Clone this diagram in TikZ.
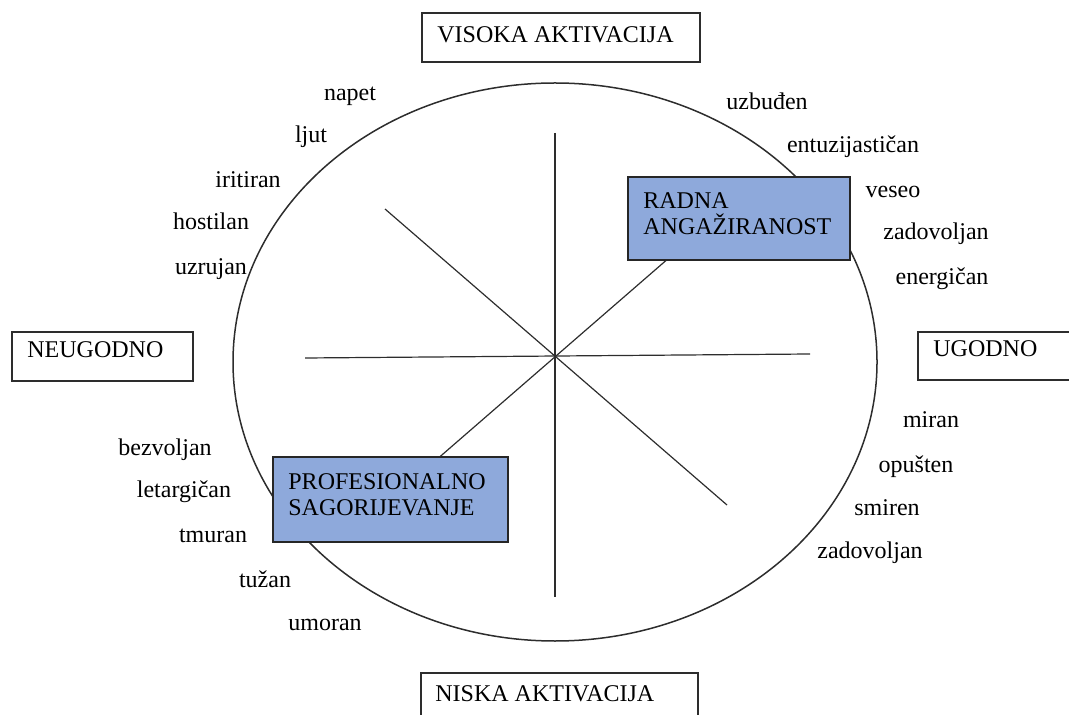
\documentclass[tikz,border=0pt]{standalone}
\usepackage{fontspec}
\setmainfont{Liberation Serif}
\usetikzlibrary{positioning}
\definecolor{boxblue}{RGB}{142,169,219}
\definecolor{linegray}{RGB}{45,45,45}
\tikzset{mood/.style={font=\fontsize{12}{13}\selectfont,inner sep=0pt,text height=0.7em,text depth=0.2em}}
\tikzset{axisbox/.style={draw=linegray,line width=0.75pt}}
\tikzset{statebox/.style={draw=black!85,line width=0.75pt,fill=boxblue}}

\begin{document}
\begin{tikzpicture}[x=0.5pt,y=-0.5pt]
\useasboundingbox (0,0) rectangle (1069,715);
\clip (0,0) rectangle (1069,715);

\draw[linegray,line width=0.75pt] (555,362) ellipse [x radius=161pt,y radius=139.5pt];

\coordinate (n) at (555,133);
\coordinate (s) at (555,597);
\coordinate (w) at (305,358);
\coordinate (e) at (810,354);
\coordinate (nw) at (385,209);
\coordinate (se) at (727,505);
\coordinate (ne) at (700,231);
\coordinate (sw) at (405,487);

\draw[linegray,line width=0.6pt] (n) -- (s);
\draw[linegray,line width=0.6pt] (w) -- (e);
\draw[linegray,line width=0.6pt] (nw) -- (se);
\draw[linegray,line width=0.6pt] (ne) -- (sw);

% axis labels
\draw[axisbox] (422,13) rectangle (700,62);
\node[mood,anchor=west] (visoka) at (437,37.5) {VISOKA AKTIVACIJA};
\draw[axisbox] (421,673) rectangle (698,740);
\node[mood,anchor=west] (niska) at (435,696) {NISKA AKTIVACIJA};
\draw[axisbox] (12,332) rectangle (193,381);
\node[mood,anchor=west] (neugodno) at (27,353) {NEUGODNO};
\draw[axisbox] (918,332) rectangle (1080,380);
\node[mood,anchor=west] (ugodno) at (933,352) {UGODNO};

% blue boxes
\draw[statebox] (628,177) rectangle (850,260);
\node[font=\fontsize{12}{13}\selectfont,inner sep=0pt,anchor=north west,align=left] (radna) at (643,192) {RADNA\\ANGAŽIRANOST};
\draw[statebox] (273,457) rectangle (508,542);
\node[font=\fontsize{12}{13}\selectfont,inner sep=0pt,anchor=north west,align=left] (prof) at (288,473) {PROFESIONALNO\\SAGORIJEVANJE};

% words
\foreach \w/\x/\y [count=\i] in {napet/350/96,ljut/311/138,iritiran/248/183,hostilan/211/225,uzrujan/211/270}
  \node[mood] (tl\i) at (\x,\y) {\w};
\foreach \w/\x/\y [count=\i] in {uzbuđen/767/105,entuzijastičan/853/148,veseo/893/193,zadovoljan/936/235,energičan/942/280}
  \node[mood] (tr\i) at (\x,\y) {\w};
\foreach \w/\x/\y [count=\i] in {bezvoljan/165/450,letargičan/184/492,tmuran/213/537,tužan/265/582,umoran/325/625}
  \node[mood] (bl\i) at (\x,\y) {\w};
\foreach \w/\x/\y [count=\i] in {miran/931/423,opušten/916/467,smiren/887/510,zadovoljan/870/553}
  \node[mood] (br\i) at (\x,\y) {\w};

\end{tikzpicture}
\end{document}
